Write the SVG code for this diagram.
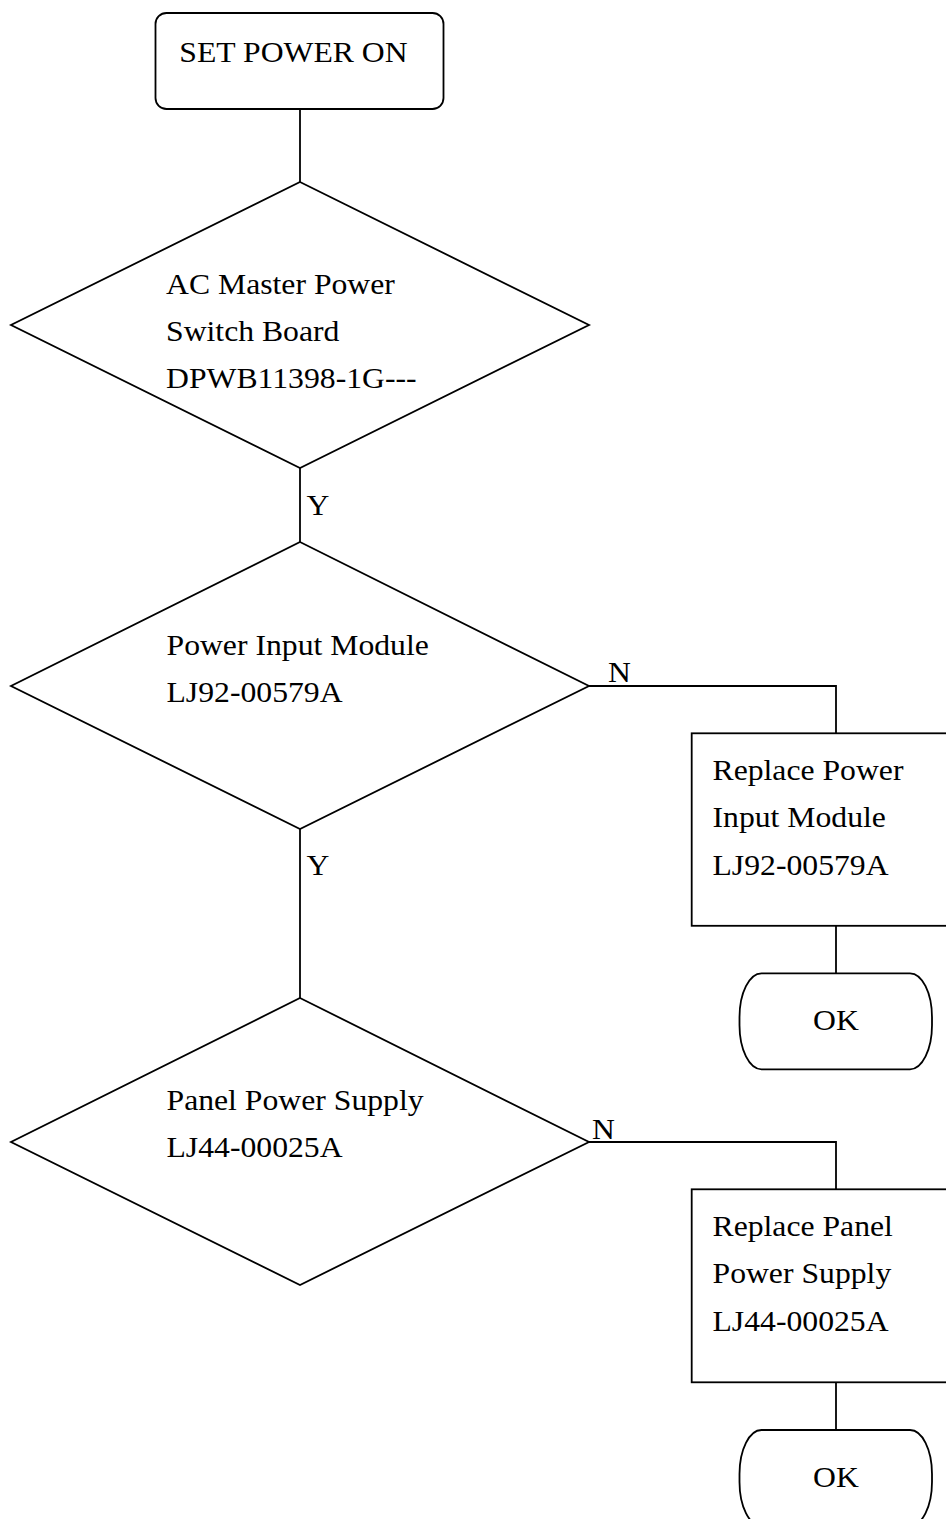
<svg xmlns="http://www.w3.org/2000/svg" width="946" height="1519" viewBox="0 0 946 1519">
<style>
.s{fill:#fff;stroke:#000;stroke-width:1.8}
.c{fill:none;stroke:#000;stroke-width:1.8}
text{font-family:"Liberation Serif","Times New Roman",serif;font-size:29.5px;fill:#000}
</style>
<rect width="946" height="1519" fill="#fff"/>
<g id="connectors">
<path class="c" d="M300,109V182"/>
<path class="c" d="M300,468V542"/>
<path class="c" d="M300,829V998"/>
<path class="c" d="M588,686H836V733"/>
<path class="c" d="M836,926V973"/>
<path class="c" d="M588,1142H836V1189"/>
<path class="c" d="M836,1382V1430"/>
<text transform="translate(306.5,515) scale(1.075,1)">Y</text>
<text transform="translate(306.5,875) scale(1.075,1)">Y</text>
<text transform="translate(608,682) scale(1.075,1)">N</text>
<text transform="translate(592,1139) scale(1.075,1)">N</text>
</g>
<g id="start">
<rect class="s" x="155.5" y="13" width="288" height="96" rx="11"/>
<text transform="translate(179.3,62) scale(1.075,1)">SET POWER ON</text>
</g>
<g id="d1">
<polygon class="s" points="300,182 589,325 300,468 11,325"/>
<text transform="translate(166,294) scale(1.075,1)">AC Master Power</text>
<text transform="translate(166,341) scale(1.075,1)">Switch Board</text>
<text transform="translate(166,388) scale(1.075,1)">DPWB11398-1G---</text>
</g>
<g id="d2">
<polygon class="s" points="300,542 589,686 300,829 11,686"/>
<text transform="translate(166.5,654.5) scale(1.075,1)">Power Input Module</text>
<text transform="translate(166.5,701.5) scale(1.075,1)">LJ92-00579A</text>
</g>
<g id="d3">
<polygon class="s" points="300,998 589,1142 300,1285 11,1142"/>
<text transform="translate(166.5,1110) scale(1.075,1)">Panel Power Supply</text>
<text transform="translate(166.5,1157.3) scale(1.075,1)">LJ44-00025A</text>
</g>
<g id="r1">
<rect class="s" x="691.7" y="733.3" width="300" height="192.5"/>
<text transform="translate(712.5,779.5) scale(1.075,1)">Replace Power</text>
<text transform="translate(712.5,827) scale(1.075,1)">Input Module</text>
<text transform="translate(712.5,874.5) scale(1.075,1)">LJ92-00579A</text>
</g>
<g id="ok1">
<rect class="s" x="739.5" y="973.3" width="192.5" height="96" rx="22" ry="44"/>
<text transform="translate(836,1030) scale(1.075,1)" text-anchor="middle">OK</text>
</g>
<g id="r2">
<rect class="s" x="691.7" y="1189.3" width="300" height="193"/>
<text transform="translate(712.5,1236) scale(1.075,1)">Replace Panel</text>
<text transform="translate(712.5,1283) scale(1.075,1)">Power Supply</text>
<text transform="translate(712.5,1330.5) scale(1.075,1)">LJ44-00025A</text>
</g>
<g id="ok2">
<rect class="s" x="739.5" y="1430" width="192.5" height="96" rx="22" ry="44"/>
<text transform="translate(836,1486.7) scale(1.075,1)" text-anchor="middle">OK</text>
</g>
</svg>
